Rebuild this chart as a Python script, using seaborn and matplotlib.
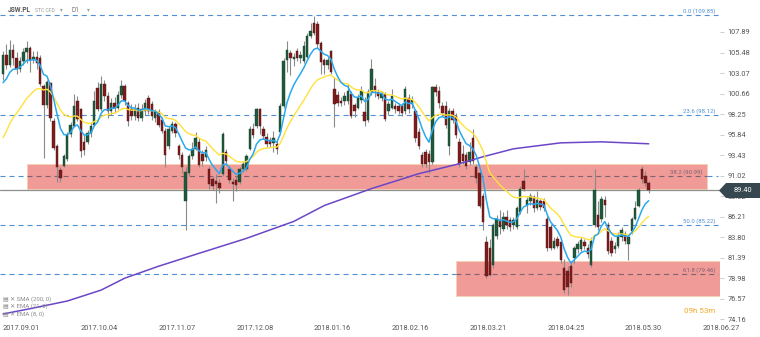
import numpy as np
import pandas as pd
import matplotlib
matplotlib.use("Agg")
import matplotlib.pyplot as plt
import seaborn as sns
from matplotlib.patches import Rectangle, Polygon

sns.set_style("white")
plt.rcParams["font.family"] = ["Roboto", "DejaVu Sans"]
plt.rcParams["lines.scale_dashes"] = False

# ---------------- data (daily candles, bar index 0 = 2017.09.01) ----------------
opens = [103.0,105.2,104.0,105.8,104.8,103.6,104.5,105.5,106.0,104.6,105.0,104.8,101.5,99.3,101.9,97.4,94.5,91.7,92.2,93.0,
         95.9,96.9,99.8,98.8,95.0,95.0,96.0,97.0,101.3,98.9,101.8,100.4,98.6,99.6,99.0,100.5,101.6,99.5,98.8,98.0,
         99.0,97.8,98.6,100.1,99.4,97.8,98.5,97.6,96.3,94.5,96.3,97.1,94.5,93.4,88.0,91.4,93.3,94.2,95.0,93.6,
         93.2,91.8,90.6,90.4,90.2,91.2,93.8,91.8,90.3,90.5,90.3,91.8,91.8,94.2,96.5,96.9,98.8,96.5,95.6,95.2,
         94.9,94.7,96.2,99.2,104.6,105.4,104.7,105.6,104.8,104.5,105.0,107.4,109.0,108.8,106.6,104.6,104.0,105.6,101.2,100.5,
         99.8,99.8,99.8,100.6,99.3,99.0,99.9,98.5,97.6,100.8,101.6,100.8,100.2,100.6,98.6,99.0,99.2,99.2,99.2,98.6,
         100.2,99.4,98.6,96.2,93.4,93.8,93.6,92.6,101.4,101.0,99.2,99.2,94.5,98.6,98.0,95.0,93.6,93.4,92.6,95.4,
         92.1,91.3,88.7,83.3,82.6,80.5,84.0,85.8,84.8,86.2,85.8,85.2,85.0,86.8,90.4,87.6,88.0,88.5,87.2,88.0,
         88.0,86.0,85.0,82.6,83.6,83.3,80.2,79.8,80.4,81.4,82.4,82.4,83.2,82.6,80.6,85.2,86.4,86.0,88.2,85.2,
         83.4,82.4,82.8,83.8,84.2,83.0,84.5,86.0,87.5,91.8,91.0,90.2]
highs = [105.6,106.5,107.0,106.5,105.5,105.0,106.0,106.8,106.3,105.6,105.6,105.2,101.8,102.3,102.0,97.8,94.8,92.0,93.6,96.2,
         97.3,100.6,100.4,99.0,95.8,96.4,97.3,101.0,102.0,102.7,102.2,100.8,100.2,100.3,101.0,102.2,101.8,99.8,99.4,99.4,
         99.5,99.4,100.0,100.5,99.8,98.9,98.8,97.9,96.6,96.8,97.5,97.3,94.8,93.8,92.0,93.6,95.0,96.2,95.4,94.0,
         94.5,92.2,91.0,91.2,90.6,96.2,94.2,92.2,90.8,91.0,92.0,92.8,93.6,96.8,97.2,99.0,99.0,96.9,96.0,95.6,
         96.3,95.2,99.5,104.8,106.8,105.8,105.4,106.0,105.6,106.8,107.8,109.0,109.8,109.2,106.8,104.8,105.0,105.8,102.6,101.0,
         100.3,100.8,101.8,101.0,99.6,100.6,101.5,100.3,101.2,104.7,102.5,101.2,101.0,100.9,99.8,101.2,99.6,99.6,99.5,101.6,
         100.6,100.4,98.9,96.6,93.8,94.2,94.0,101.6,101.8,101.6,99.7,99.8,99.0,99.0,98.4,95.4,94.6,93.8,95.0,96.5,
         92.4,91.6,89.0,84.0,83.6,85.5,86.4,87.0,86.8,87.0,86.2,86.2,87.5,89.8,91.8,88.5,89.0,88.8,89.2,88.3,
         88.4,86.3,85.3,83.8,84.0,83.6,81.2,80.4,81.0,82.8,83.4,83.8,83.6,83.0,83.8,91.8,88.0,88.6,88.6,85.6,
         83.8,83.3,84.4,85.0,84.5,84.2,86.2,88.0,89.6,92.2,91.6,90.4]
lows = [102.2,103.5,103.8,104.0,103.0,103.2,104.0,104.2,103.2,104.2,103.6,101.5,93.1,99.0,97.5,94.0,90.3,90.3,92.0,92.8,
        95.6,96.7,97.4,93.2,93.5,94.8,95.6,96.8,98.6,98.6,99.8,97.8,98.2,98.4,98.8,100.2,99.3,96.8,97.6,97.6,
        97.4,97.5,98.2,98.3,97.6,97.3,96.7,96.0,92.0,94.2,96.0,95.6,93.0,91.4,84.6,91.0,93.0,94.0,92.0,92.2,
        92.8,89.5,89.4,87.8,89.0,91.0,92.4,90.2,88.1,89.2,90.0,91.5,91.6,94.0,95.5,96.6,95.9,95.3,94.4,94.4,
        93.8,93.6,96.0,99.0,103.2,102.8,103.9,104.5,104.3,104.2,104.8,107.2,107.5,106.0,103.0,102.9,103.6,102.9,96.7,99.2,
        99.2,99.3,99.4,97.8,97.9,98.8,99.6,96.9,97.3,100.5,100.3,100.0,99.8,97.4,98.2,98.8,98.4,98.3,98.0,98.3,
        98.4,99.0,95.0,94.2,92.0,92.0,91.4,92.4,100.4,99.0,98.0,96.6,93.4,97.2,95.4,92.0,92.4,91.8,92.3,92.4,
        90.2,87.2,84.6,79.0,79.2,80.2,83.6,84.2,84.5,84.8,84.5,84.8,84.8,86.5,89.2,86.6,87.6,86.8,87.0,87.0,
        86.9,82.2,82.3,82.4,82.5,80.8,77.3,77.0,78.0,80.8,82.0,82.2,82.4,81.4,80.3,85.0,84.6,85.6,86.2,81.8,
        81.6,82.0,82.5,83.4,83.0,81.1,84.2,85.8,87.3,90.2,89.8,89.0]
closes = [105.2,104.0,105.8,104.8,103.6,104.5,105.5,106.0,104.6,105.0,104.2,101.8,99.3,102.0,97.8,94.3,92.0,90.8,93.3,95.8,
          97.0,99.2,97.7,93.9,94.0,96.0,96.8,99.8,98.9,101.8,100.4,98.6,99.6,99.0,100.5,101.6,99.8,97.4,98.0,98.9,
          97.8,98.8,99.5,98.6,98.0,98.5,97.0,96.3,93.5,96.5,97.1,96.0,93.4,92.0,91.5,93.3,94.2,95.5,92.3,92.8,
          94.0,90.0,89.8,90.0,89.6,95.9,92.8,90.5,90.0,89.9,91.8,92.4,93.3,96.5,95.8,98.8,96.9,95.7,94.8,94.7,
          95.4,94.2,99.2,104.5,105.8,104.8,104.9,104.8,105.2,106.2,107.4,108.0,107.8,106.5,104.4,104.0,104.6,103.2,99.4,99.6,
          99.6,100.4,101.0,98.0,98.6,100.2,101.0,97.4,100.8,103.5,101.0,100.4,100.6,97.7,99.4,100.4,98.8,98.6,98.4,101.2,
          98.8,99.9,95.4,94.5,92.4,92.4,92.6,101.4,100.8,99.5,98.4,97.0,98.6,97.6,95.8,92.4,92.8,92.2,93.8,92.8,
          90.7,87.5,85.6,79.3,79.4,85.2,86.0,85.0,86.2,85.2,85.0,85.8,87.2,89.5,89.5,88.2,88.6,87.2,88.2,87.4,
          87.2,82.5,82.6,83.4,82.8,81.1,77.6,78.0,78.4,82.5,83.0,83.5,82.8,81.8,83.4,89.4,85.0,88.3,87.6,82.2,
          82.0,82.8,84.0,84.6,83.4,83.8,86.0,87.2,89.4,90.6,90.2,89.4]

# SMA(200) values at selected bars
sma_idx = [0, 9, 19, 29, 36, 46, 58, 72, 86, 95, 109, 123, 135, 142, 151, 165, 177, 191]
sma_val = [74.80, 75.50, 76.32, 77.60, 79.00, 80.40, 81.92, 83.67, 85.66, 87.52, 89.51, 91.26,
           92.43, 93.25, 94.18, 94.88, 95.00, 94.77]

# EMA starting values
ema8_seed = 101.0
ema21_seed = 94.5

date_ticks = [0, 23, 46, 69, 92, 115, 138, 161, 184, 207]
date_labels = ["2017.09.01", "2017.10.04", "2017.11.07", "2017.12.08", "2018.01.16",
               "2018.02.16", "2018.03.21", "2018.04.25", "2018.05.30", "2018.06.27"]
price_ticks = [74.16, 76.57, 78.98, 81.39, 83.80, 86.21, 88.62, 91.02, 93.43, 95.84,
               98.25, 100.66, 103.07, 105.48, 107.89]
fib_levels = [109.85, 98.12, 90.99, 85.22, 79.46]
fib_names = ["0.0", "23.6", "38.2", "50.0", "61.8"]
zones = [(7.1, 208.3, 89.46, 92.43), (134.0, 212.6, 76.94, 81.03)]
last_price = 89.40


def ema(vals, n, seed):
    a = 2.0 / (n + 1)
    out, e = [], seed
    for v in vals:
        e = a * v + (1 - a) * e
        out.append(e)
    return out


df = pd.DataFrame({"open": opens, "high": highs, "low": lows, "close": closes})
df["i"] = np.arange(len(df))
df["ema8"] = ema(closes, 8, ema8_seed)
df["ema21"] = ema(closes, 21, ema21_seed)
sma = pd.DataFrame({"i": sma_idx, "sma": sma_val})

W, H = 760, 337
fig = plt.figure(figsize=(W / 100, H / 100), dpi=100)
ax = fig.add_axes([0, 1 - 322 / H, 720 / W, 322 / H])
XMIN, XMAX = -0.89, 212.1
ax.set_xlim(XMIN, XMAX)
ax.set_ylim(73.86, 111.64)
for s in ax.spines.values():
    s.set_visible(False)

# zones
for x0, x1, y0, y1 in zones:
    ax.add_patch(Rectangle((x0, y0), x1 - x0, y1 - y0, facecolor="#f09b97",
                           edgecolor="#f6d2b4", lw=0.7, zorder=1))

# fib lines
blue = "#4f8fd3"
dark = "#7d6272"
xend = 211.5
for lv, nm in zip(fib_levels, fib_names):
    segs = [(XMIN, xend, blue)]
    for x0, x1, y0, y1 in zones:
        if y0 <= lv <= y1:
            segs = [(XMIN, x0, blue), (x0, min(x1, xend), dark)]
            if x1 < xend:
                segs.append((x1, xend, blue))
    for a, b, c in segs:
        ax.plot([a, b], [lv, lv], color=c, lw=0.8, ls=(0, (3.6, 2.9)), zorder=2)
    inzone = any(y0 <= lv <= y1 for _, _, y0, y1 in zones)
    xl = 206.9 if nm == "38.2" else 210.9
    ax.text(xl, lv + 0.12, f"{nm} ({lv:.2f})", ha="right", va="bottom", fontsize=4.3,
            color=dark if inzone else blue, zorder=6)

# last price line
ax.axhline(last_price, color="#8e8e8e", lw=0.9, zorder=2)

# candles
up = df["close"] >= df["open"]
ax.vlines(df["i"], df["low"], df["high"], color="#8a8a8a", lw=0.8, zorder=3)
body = (df["close"] - df["open"]).abs().clip(lower=0.1)
bottom = df[["open", "close"]].min(axis=1)
ax.bar(df["i"][up], body[up], bottom=bottom[up], width=0.72, color="#1f5a3c",
       edgecolor="#183f2c", lw=0.3, zorder=4)
ax.bar(df["i"][~up], body[~up], bottom=bottom[~up], width=0.72, color="#7e1c1c",
       edgecolor="#4f1414", lw=0.3, zorder=4)

# indicator lines
sns.lineplot(data=sma, x="i", y="sma", ax=ax, color="#6b46c6", lw=1.1, zorder=5)
sns.lineplot(data=df, x="i", y="ema21", ax=ax, color="#ffe13a", lw=1.0, zorder=5)
sns.lineplot(data=df, x="i", y="ema8", ax=ax, color="#2aa9ee", lw=1.1, zorder=5)
ax.set_xlabel("")
ax.set_ylabel("")

# axes ticks
ax.set_xticks(date_ticks)
ax.set_xticklabels(date_labels, ha="left")
ax.tick_params(axis="x", length=0, pad=2.0, labelsize=5.3, labelcolor="#555555")
ax.yaxis.tick_right()
ax.set_yticks(price_ticks)
ax.set_yticklabels([f"{v:.2f}" for v in price_ticks])
ax.tick_params(axis="y", length=3, width=0.5, color="#bbbbbb", pad=2.5,
               labelsize=5.3, labelcolor="#555555")


def fx(px):
    return px / W


def fy(py):
    return 1 - py / H


# price tag
tag = Polygon([(fx(719), fy(190.5)), (fx(726), fy(183)), (fx(760), fy(183)),
               (fx(760), fy(198)), (fx(726), fy(198))], closed=True,
              transform=fig.transFigure, facecolor="#37474f", edgecolor="none", zorder=10)
fig.add_artist(tag)
fig.text(fx(743), fy(190.5), f"{last_price:.2f}", color="white", fontsize=5.3,
         ha="center", va="center", zorder=11)

# countdown
fig.text(fx(700), fy(311), "09h 53m", color="#f5a623", fontsize=5.8, ha="center", va="center")

# header
fig.text(fx(8), fy(10), "JSW.PL", fontsize=4.8, fontweight="bold", color="#555555", va="center")
fig.text(fx(35), fy(10), "STC CFD", fontsize=3.6, color="#9a9a9a", va="center")
fig.text(fx(60), fy(10), "▾", fontsize=4, color="#9a9a9a", va="center")
fig.text(fx(72), fy(10), "D1", fontsize=4.8, color="#777777", va="center")
fig.text(fx(87), fy(10), "▾", fontsize=4, color="#9a9a9a", va="center")

# indicator legend
for py, txt in [(299, "▤ ✕ SMA (200, 0)"), (306, "▤ ✕ EMA (21, 0)"), (314, "▤ ✕ EMA (8, 0)")]:
    fig.text(fx(3), fy(py), txt, fontsize=4.3, color="#8a8a8a", va="center",
             family=["Roboto", "DejaVu Sans"])

fig.savefig("out.png", dpi=100)
